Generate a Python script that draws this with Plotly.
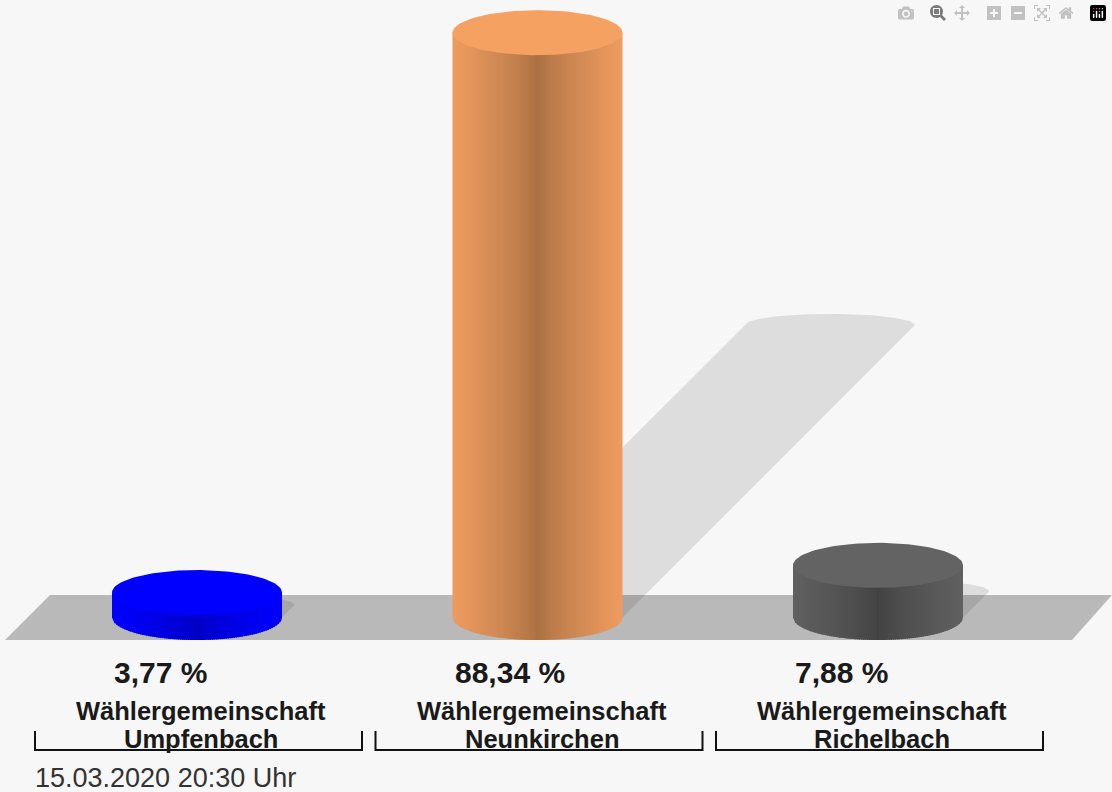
"""Wahlergebnis as 3D-looking cylinders, drawn with filled scatter traces."""
import numpy as np
import plotly.graph_objects as go

name_first = ["Wählergemeinschaft", "Wählergemeinschaft", "Wählergemeinschaft"]
name_second = ["Umpfenbach", "Neunkirchen", "Richelbach"]
values = [3.77, 88.34, 7.88]
value_labels = ["3,77 %", "88,34 %", "7,88 %"]
top_colors = ["#0000ff", "#f5a161", "#636363"]
edge_colors = ["#0000ff", "#ee9c60", "#606060"]
dark_colors = ["#0000c4", "#a96f42", "#424242"]
timestamp = "15.03.2020 20:30 Uhr"

WIDTH, HEIGHT = 1112, 792
PX_PER_PCT = 6.62
BASE_PX = 617.5
RX = 85
RY = 22.5 / PX_PER_PCT
FIRST_CX = 197
STEP = 340.5
BG = "#f7f7f7"


def y_of(px):
    """Pixel row to percent value on the y axis."""
    return (BASE_PX - px) / PX_PER_PCT


def rgb(c):
    return np.array([int(c[i:i + 2], 16) for i in (1, 3, 5)], dtype=float)


def blend(a, b, s):
    m = rgb(a) * (1 - s) + rgb(b) * s
    return f"rgb({m[0]:.0f},{m[1]:.0f},{m[2]:.0f})"


def poly(xs, ys, color):
    return go.Scatter(
        x=xs, y=ys, mode="lines", fill="toself", fillcolor=color,
        line=dict(width=0), showlegend=False, hoverinfo="skip",
    )


fig = go.Figure()

# floor
fig.add_trace(poly([5, 50, WIDTH, 1072, 5], [y_of(p) for p in (640, 595, 595, 640, 640)], "#b9b9b9"))

centers = [FIRST_CX + i * STEP for i in range(len(values))]

# shadows, sheared up and to the right
for cx, v in zip(centers, values):
    h_px = v * PX_PER_PCT
    sx = cx + h_px * 0.5
    sy = v * 0.5
    ang = np.linspace(np.pi, 0, 60)
    xs = [cx - RX] + list(sx + RX * np.cos(ang)) + [cx + RX]
    ys = [0] + list(sy + RY * 0.5 * np.sin(ang)) + [0]
    fig.add_trace(poly(xs, ys, "rgba(0,0,0,0.1)"))

# cylinders
for cx, v, top, edge, dark in zip(centers, values, top_colors, edge_colors, dark_colors):
    edges = np.arange(-RX, RX, 2.0)
    for left in edges:
        right = min(left + 3.0, RX)
        xs = np.linspace(left, right, 4)
        bottom = -RY * np.sqrt(np.clip(1 - (xs / RX) ** 2, 0, 1))
        t = abs(left + 1.0) / RX
        color = blend(dark, edge, t ** 0.75)
        fig.add_trace(poly(
            list(cx + xs) + [cx + right, cx + left, cx + left],
            list(bottom) + [v, v, bottom[0]],
            color,
        ))
    ang = np.linspace(0, 2 * np.pi, 120)
    fig.add_trace(poly(cx + RX * np.cos(ang), v + RY * np.sin(ang), top))

# brackets under the names
for i in range(len(values)):
    bx = 198.5 + i * STEP
    fig.add_trace(go.Scatter(
        x=[bx - 163.5, bx - 163.5, bx + 163.5, bx + 163.5],
        y=[y_of(731), y_of(750), y_of(750), y_of(731)],
        mode="lines", line=dict(color="#111111", width=2),
        showlegend=False, hoverinfo="skip",
    ))

annotations = []
for cx, label, first, second in zip(centers, value_labels, name_first, name_second):
    annotations.append(dict(
        x=cx - RX, y=y_of(672), xref="x", yref="y", text=f"<b>{label}</b>",
        showarrow=False, xanchor="left", yanchor="middle",
        font=dict(family="Liberation Sans", size=30, color="#1a1a1a"),
    ))
    for line, row in ((first, 711), (second, 739)):
        annotations.append(dict(
            x=cx + 4, y=y_of(row), xref="x", yref="y", text=f"<b>{line}</b>",
            showarrow=False, xanchor="center", yanchor="middle",
            font=dict(family="Liberation Sans", size=25.5, color="#1a1a1a"),
        ))
annotations.append(dict(
    x=33, y=y_of(778), xref="x", yref="y", text=timestamp,
    showarrow=False, xanchor="left", yanchor="middle",
    font=dict(family="Liberation Sans", size=27, color="#333333"),
))

fig.update_layout(
    width=WIDTH,
    height=HEIGHT,
    margin=dict(l=0, r=0, t=0, b=0),
    paper_bgcolor=BG,
    plot_bgcolor=BG,
    xaxis=dict(range=[0, WIDTH], visible=False),
    yaxis=dict(range=[y_of(HEIGHT), y_of(0)], visible=False),
    annotations=annotations,
    hovermode=False,
)

fig.write_html("out.html", post_script="document.body.style.margin='0';")
